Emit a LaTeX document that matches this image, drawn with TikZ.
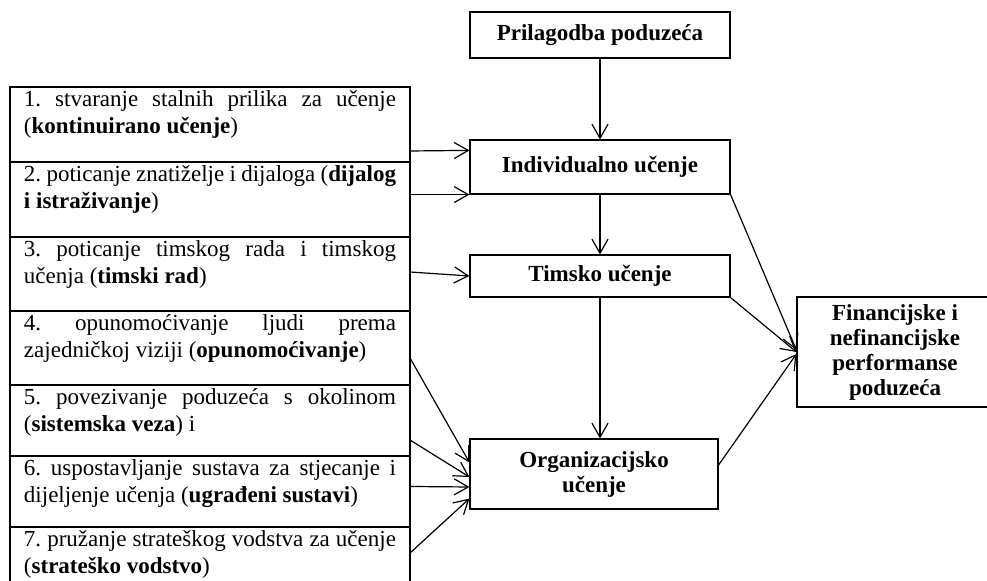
\documentclass[tikz,border=0pt]{standalone}
\usepackage{fontspec}
\setmainfont{Liberation Serif}
\usetikzlibrary{arrows.meta, positioning, calc}

\newcommand{\rowcell}[2]{\parbox[c][#1][t]{186pt}{\frenchspacing #2}}

\begin{document}
\begin{tikzpicture}[
        x=0.5pt, y=-0.5pt,
        row/.style={rectangle, draw, line width=0.6pt, outer sep=0pt, inner xsep=7pt, inner ysep=2pt, font=\fontsize{11.5}{13.5}\selectfont},
        box/.style={rectangle, draw, line width=0.6pt, align=center, inner sep=1pt, font=\bfseries\fontsize{11.5}{12.5}\selectfont},
        arrow/.style={-{Straight Barb[length=7pt, width=8pt]}, line width=0.6pt}
    ]
        \useasboundingbox (0,0) rectangle (987,581);
        \node[row, anchor=north west] (r1) at (10,87) {\rowcell{33.5pt}{1. stvaranje stalnih prilika za učenje\linebreak (\textbf{kontinuirano učenje})}};
        \node[row, below=0pt of r1] (r2) {\rowcell{33.5pt}{2. poticanje znatiželje i dijaloga (\textbf{dijalog}\linebreak \textbf{i istraživanje})}};
        \node[row, below=0pt of r2] (r3) {\rowcell{33pt}{3. poticanje timskog rada i timskog\linebreak učenja (\textbf{timski rad})}};
        \node[row, below=0pt of r3] (r4) {\rowcell{33pt}{4. opunomoćivanje ljudi prema\linebreak zajedničkoj viziji (\textbf{opunomoćivanje})}};
        \node[row, below=0pt of r4] (r5) {\rowcell{31.5pt}{5. povezivanje poduzeća s okolinom\linebreak (\textbf{sistemska veza}) i}};
        \node[row, below=0pt of r5] (r6) {\rowcell{31.5pt}{6. uspostavljanje sustava za stjecanje i\linebreak dijeljenje učenja (\textbf{ugrađeni sustavi})}};
        \node[row, below=0pt of r6] (r7) {\rowcell{31.5pt}{7. pružanje strateškog vodstva za učenje\linebreak (\textbf{strateško vodstvo})}};
        \node[box, minimum width=130pt, minimum height=23pt] (pril) at (600,35) {Prilagodba poduzeća};
        \node[box, minimum width=130pt, minimum height=27pt] (indiv) at (600,167) {Individualno učenje};
        \node[box, minimum width=130pt, minimum height=21pt] (tim) at (600,276) {Timsko učenje};
        \node[box, minimum width=124pt, minimum height=35pt] (org) at (594,474) {Organizacijsko\\učenje};
        \node[box, minimum width=98pt, minimum height=55pt] (fin) at (895,352) {Financijske i\\nefinancijske\\performanse\\poduzeća};
        \draw[arrow] (pril) -- (indiv);
        \draw[arrow] (indiv) -- (tim);
        \draw[arrow] (tim.south) -- (tim.south |- org.north);
        \draw[arrow] ($(r1.south east)+(0,-11)$) -- ($(indiv.north west)+(0,11)$);
        \draw[arrow] (r2.east |- indiv.south west) -- (indiv.south west);
        \draw[arrow] ($(r3.east)+(0,-2)$) -- (tim.west);
        \draw[arrow] ($(r4.south east)+(0,-27)$) -- ($(org.north west)+(0,24)$);
        \draw[arrow] ($(r5.south east)+(0,-16)$) -- ($(org.west)+(0,3)$);
        \draw[arrow] ($(r6.east)+(0,-5)$) -- ($(org.west)+(0,13)$);
        \draw[arrow] ($(r7.north east)+(0,26)$) -- ($(org.south west)+(0,-11)$);
        \draw[arrow] (indiv.south east) -- ($(fin.west)+(0,-2)$);
        \draw[arrow] (tim.south east) -- (fin.west);
        \draw[arrow] ($(org.east)+(0,-9)$) -- ($(fin.west)+(0,2)$);
    \end{tikzpicture}
\end{document}
